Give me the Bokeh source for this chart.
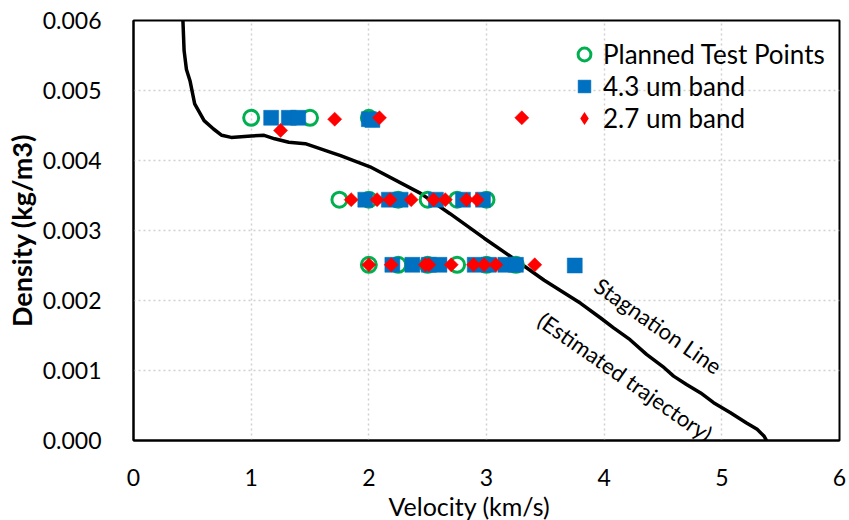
import numpy as np
from bokeh.plotting import figure
from bokeh.models import Range1d, FixedTicker, PrintfTickFormatter, Label, Legend, LegendItem, Title
from bokeh.embed import file_html
from bokeh.resources import INLINE

FONT = "Lato"

# Stagnation line (estimated trajectory)
line_velocity = [0.42, 0.43, 0.45, 0.48, 0.52, 0.60, 0.68, 0.75, 0.83, 1.00, 1.11, 1.20,
                 1.32, 1.46, 1.69, 1.76, 2.01, 2.44, 2.69, 2.98, 3.23, 3.49, 3.80, 3.97,
                 4.08, 4.22, 4.36, 4.51, 4.59, 4.70, 4.82, 4.93, 5.07, 5.21, 5.30, 5.36, 5.38]
line_density = [0.00600, 0.00557, 0.00530, 0.00514, 0.00481, 0.00457, 0.00445, 0.00436,
                0.00433, 0.00435, 0.00436, 0.00431, 0.00426, 0.00424, 0.00411, 0.00407,
                0.00391, 0.00353, 0.00324, 0.00289, 0.00260, 0.00229, 0.00196, 0.00175,
                0.00161, 0.00144, 0.00123, 0.00104, 0.00092, 0.00080, 0.00068, 0.00054,
                0.00040, 0.00025, 0.00016, 0.00006, 0.00000]

# Planned test points
planned_velocity = [1.0, 1.5, 2.0,
                    1.75, 2.0, 2.25, 2.5, 2.75, 3.0,
                    2.0, 2.25, 2.5, 2.75, 3.0, 3.25]
planned_density = [0.00461, 0.00461, 0.00461,
                   0.00344, 0.00344, 0.00344, 0.00344, 0.00344, 0.00344,
                   0.00251, 0.00251, 0.00251, 0.00251, 0.00251, 0.00251]

# 4.3 um band
band43_velocity = [1.17, 1.32, 1.40, 2.00, 2.03,
                   1.97, 2.17, 2.27, 2.57, 2.80, 2.97,
                   2.20, 2.37, 2.51, 2.60, 2.90, 3.02, 3.16, 3.25, 3.75]
band43_density = [0.00461, 0.00461, 0.00461, 0.00459, 0.00458,
                  0.00344, 0.00344, 0.00344, 0.00344, 0.00344, 0.00344,
                  0.00251, 0.00251, 0.00251, 0.00251, 0.00251, 0.00251, 0.00251, 0.00251, 0.00250]

# 2.7 um band
band27_velocity = [1.25, 1.71, 2.09, 3.30,
                   1.85, 2.07, 2.18, 2.36, 2.55, 2.65, 2.83, 2.92,
                   2.00, 2.19, 2.48, 2.51, 2.70, 2.89, 2.98, 3.08, 3.41]
band27_density = [0.00443, 0.00459, 0.00461, 0.00461,
                  0.00344, 0.00344, 0.00344, 0.00344, 0.00344, 0.00344, 0.00344, 0.00344,
                  0.00251, 0.00251, 0.00251, 0.00251, 0.00251, 0.00251, 0.00251, 0.00251, 0.00251]

x_ticks = [0, 1, 2, 3, 4, 5, 6]
y_ticks = [0.000, 0.001, 0.002, 0.003, 0.004, 0.005, 0.006]

p = figure(width=849, height=520, output_backend="svg", toolbar_location=None,
           x_range=Range1d(0, 6), y_range=Range1d(0, 0.006),
           min_border_left=133, min_border_right=10, min_border_top=20, min_border_bottom=79,
           background_fill_color="white", border_fill_color="white")

p.outline_line_color = "black"
p.outline_line_width = 2

# grids
p.xgrid.ticker = FixedTicker(ticks=x_ticks[1:-1])
p.ygrid.ticker = FixedTicker(ticks=y_ticks[1:-1])
for g in (p.xgrid, p.ygrid):
    g.grid_line_color = "#D0D0D0"
    g.grid_line_dash = "2 3"
    g.grid_line_width = 1.5

# axes
p.xaxis.ticker = FixedTicker(ticks=x_ticks)
p.yaxis.ticker = FixedTicker(ticks=y_ticks)
p.xaxis.formatter = PrintfTickFormatter(format="%d")
p.yaxis.formatter = PrintfTickFormatter(format="%.3f")
for ax in (p.xaxis, p.yaxis):
    ax.axis_line_color = "black"
    ax.axis_line_width = 2
    ax.major_tick_line_color = None
    ax.minor_tick_line_color = None
    ax.major_label_text_font = FONT
    ax.major_label_text_font_size = "23px"
    ax.major_label_text_color = "black"
p.yaxis.axis_label = "Density (kg/m3)"
p.yaxis.axis_label_text_font = FONT
p.yaxis.axis_label_text_font_size = "27px"
p.yaxis.axis_label_text_font_style = "bold"
p.yaxis.axis_label_text_color = "black"
p.xaxis.major_label_standoff = 22
p.yaxis.major_label_standoff = 26
p.yaxis.axis_label_standoff = 2

# x axis title (slightly left of centre, as in the original)
p.add_layout(Title(text="Velocity (km/s)", align="left", offset=255, standoff=0,
                   text_font=FONT, text_font_size="25px", text_font_style="normal",
                   text_color="black"), "below")

# stagnation line
p.line(line_velocity, line_density, line_color="black", line_width=3.5)

# markers
r_planned = p.scatter(planned_velocity, planned_density, marker="circle", size=15,
                      fill_color=None, line_color="#00B050", line_width=3)
r_43 = p.scatter(band43_velocity, band43_density, marker="square", size=15,
                 fill_color="#0070C0", line_color="#0070C0", line_width=0.5)
# diamond swatch for the legend (hidden under the rotated squares)
r_27_key = p.scatter(band27_velocity, band27_density, marker="diamond", size=13,
                     fill_color="#FF0000", line_color="#FF0000", line_width=0)
r_27 = p.scatter(band27_velocity, band27_density, marker="square", size=10, angle=np.pi / 4,
                 fill_color="#FF0000", line_color="#FF0000", line_width=0.5)

legend = Legend(items=[
    LegendItem(label="Planned Test Points", renderers=[r_planned]),
    LegendItem(label="4.3 um band", renderers=[r_43]),
    LegendItem(label="2.7 um band", renderers=[r_27_key]),
], location=(432, 306))
legend.label_text_font = FONT
legend.label_text_font_size = "26px"
legend.label_text_color = "black"
legend.glyph_width = 38
legend.glyph_height = 32
legend.spacing = 0
legend.padding = 0
legend.margin = 0
legend.label_standoff = 0
legend.border_line_color = None
legend.background_fill_alpha = 0
p.add_layout(legend, "center")

# annotations
p.add_layout(Label(x=4.46, y=0.00164, text="Stagnation Line", angle=-0.61,
                   text_align="center", text_baseline="middle",
                   text_font=FONT, text_font_size="22px", text_color="black"))
p.add_layout(Label(x=4.18, y=0.00091, text="(Estimated trajectory)", angle=-0.61,
                   text_align="center", text_baseline="middle",
                   text_font=FONT, text_font_size="22px", text_color="black"))

open("out.html", "w").write(file_html(p, INLINE))
